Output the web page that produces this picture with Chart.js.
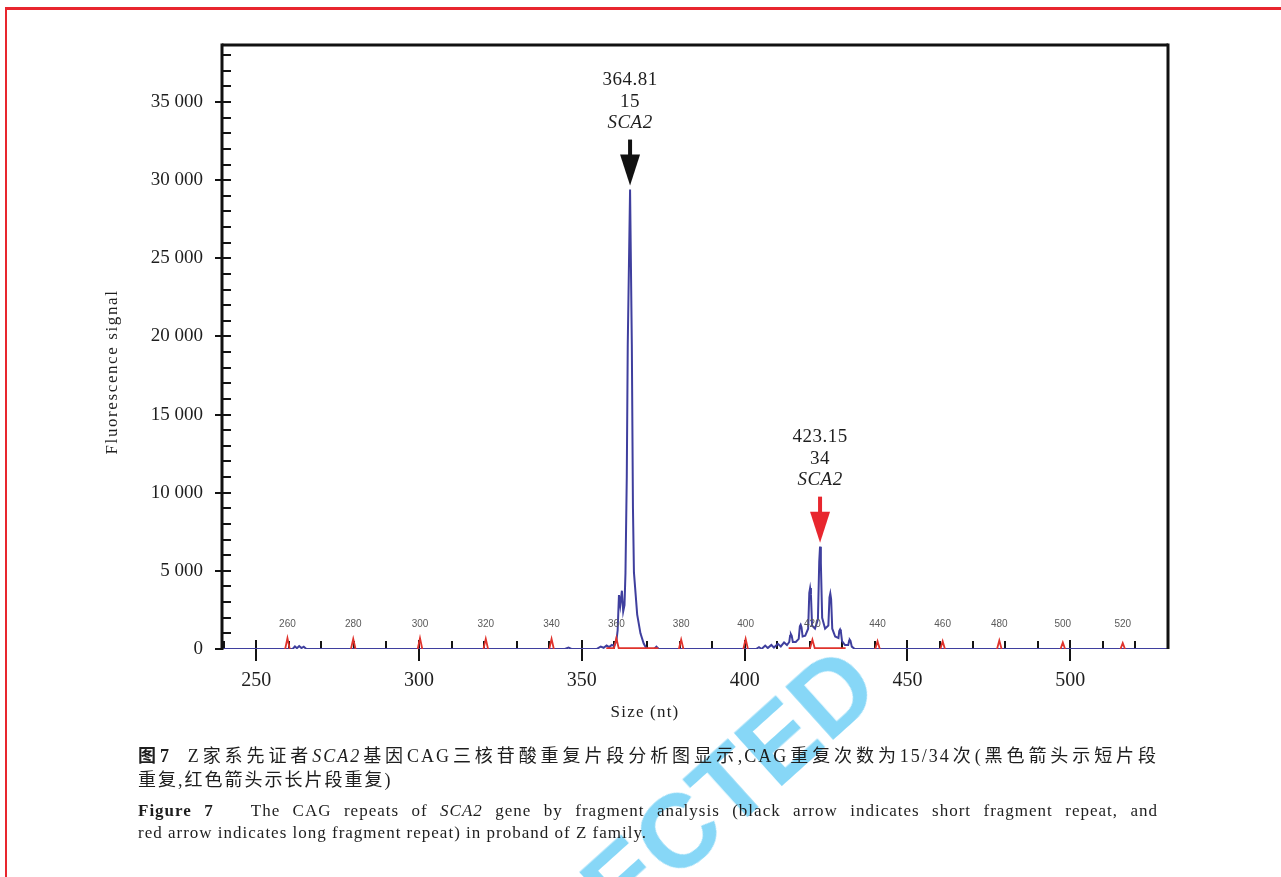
<!DOCTYPE html>
<html>
<head>
<meta charset="utf-8">
<script src="https://cdn.jsdelivr.net/npm/chart.js@4.4.1/dist/chart.umd.min.js"></script>
<style>
  html, body { margin: 0; padding: 0; background: #fff; width: 1281px; height: 877px; overflow: hidden; }
  body { position: relative; }
  #frame { position: absolute; left: 5px; top: 7px; width: 1300px; height: 900px;
           border-left: 2.5px solid #e8262e; border-top: 3px solid #e8262e; }
  #chart { position: absolute; left: 0; top: 0; }
  .wm { position: absolute; left: 622px; top: 842px; font: bold 104px 'Liberation Sans', Arial, sans-serif;
        line-height: 104px; color: #87d7f7; transform-origin: 0 88px; transform: rotate(-42deg); white-space: nowrap; }
  .cap { position: absolute; left: 138px; width: 1020px; color: #1e1e1e; }
  .zh { font-family: 'Liberation Serif', 'Noto Sans CJK SC', serif; font-size: 18px; line-height: 24px; letter-spacing: 2px; }
  .en { font-family: 'Liberation Serif', serif; font-size: 17px; line-height: 22px; letter-spacing: 1px; }
  .just { text-align: justify; text-align-last: justify; }
</style>
</head>
<body>
<div id="frame"></div>
<canvas id="chart" width="1281" height="740"></canvas>
<div class="wm">ECTED</div>
<div class="cap zh just" style="top:744px"><b>图7</b>&nbsp;&nbsp;Z家系先证者<i>SCA2</i>基因CAG三核苷酸重复片段分析图显示,CAG重复次数为15/34次(黑色箭头示短片段</div>
<div class="cap zh" style="top:768px">重复,红色箭头示长片段重复)</div>
<div class="cap en just" style="top:800px"><b>Figure 7</b>&nbsp;&nbsp; The CAG repeats of <i>SCA2</i> gene by fragment analysis (black arrow indicates short fragment repeat, and</div>
<div class="cap en" style="top:822px">red arrow indicates long fragment repeat) in proband of Z family.</div>

<script>
// ---- Fragment analysis trace (sample channel, blue) ----
const blueSize = [
  239.5, 261.2, 261.9, 262.5, 263.2, 263.9, 264.6, 265.4,
  344.8, 345.9, 346.8,
  354.5, 355.8, 356.7, 357.6, 358.4, 359.2, 359.9, 360.6, 361.0, 361.4, 361.8, 362.3, 362.7, 363.1,
  363.4, 363.8, 364.1, 364.81, 365.35, 365.7, 366.0, 367.0, 368.0, 369.0, 369.8, 370.5,
  372.2, 372.9, 373.6,
  403.5, 404.4, 405.2, 406.3, 407.1, 408.2, 409.0, 410.2, 411.1, 412.1, 413.0,
  413.7, 413.95, 414.2, 414.45, 414.8,
  415.7, 416.6, 416.95, 417.2, 417.45, 417.8,
  418.6, 419.5, 419.85, 420.1, 420.35, 420.7,
  421.6, 422.5, 422.9, 423.15, 423.4, 423.8,
  424.7, 425.7, 426.05, 426.3, 426.55, 426.9,
  427.8, 428.8, 429.05, 429.3, 429.55, 429.9,
  430.8, 431.8, 432.1, 432.3, 432.5, 432.9, 433.8,
  530
];
const blueSignal = [
  0, 0, 170, 50, 190, 60, 150, 0,
  0, 90, 0,
  0, 150, 80, 220, 120, 260, 200, 500, 1200, 3450, 2800, 3730, 2400, 2800,
  4860, 11000, 19500, 29400, 19500, 9000, 4900, 2200, 1000, 350, 50, 0,
  0, 150, 0,
  0, 120, 0, 220, 60, 260, 90, 330, 160, 420, 250,
  450, 850, 950, 850, 450,
  450, 650, 1450, 1550, 1400, 800,
  850, 1300, 3600, 3900, 3500, 1500,
  1300, 1900, 5600, 6550, 5500, 2000,
  1300, 1500, 3300, 3550, 3200, 1300,
  800, 700, 1150, 1250, 1100, 500,
  250, 250, 550, 580, 520, 150, 0,
  0
];

// ---- Size standard trace (red); null breaks the line between peaks ----
const redSize = [
  258.9, 259.6, 260.3, 260.4,
  279.1, 279.8, 280.5, 280.6,
  299.6, 300.3, 301.0, 301.1,
  319.8, 320.5, 321.2, 321.3,
  340.0, 340.7, 341.4, 341.5,
  357.5, 359.9, 360.6, 361.3, 373.5, 373.6,
  379.8, 380.5, 381.2, 381.3,
  399.6, 400.3, 401.0, 401.1,
  413.5, 420.1, 420.8, 421.5, 431.0, 431.1,
  440.1, 440.8, 441.5, 441.6,
  460.1, 460.8, 461.5, 461.6,
  477.5, 478.2, 478.9, 479.0,
  497.0, 497.7, 498.4, 498.5,
  515.4, 516.1, 516.8
];
const redSignal = [
  0, 700, 0, null,
  0, 650, 0, null,
  0, 700, 0, null,
  0, 650, 0, null,
  0, 650, 0, null,
  60, 60, 700, 60, 60, null,
  0, 600, 0, null,
  0, 650, 0, null,
  60, 60, 600, 60, 60, null,
  0, 500, 0, null,
  0, 500, 0, null,
  0, 550, 0, null,
  0, 420, 0, null,
  0, 380, 0
];

// size standard fragment labels
const standardSizes  = [259.6, 279.8, 300.3, 320.5, 340.7, 360.6, 380.5, 400.3, 420.8, 440.8, 460.8, 478.2, 497.7, 516.1];
const standardLabels = ['260', '280', '300', '320', '340', '360', '380', '400', '420', '440', '460', '480', '500', '520'];

// called alleles
const peakSizes    = [364.81, 423.15];
const peakSignals  = [29400, 6550];
const peakRepeats  = ['15', '34'];
const peakGene     = ['SCA2', 'SCA2'];
const arrowColors  = ['#111111', '#e8262e'];

// axis ticks
const xTickValues = [250, 300, 350, 400, 450, 500];
const yTickValues = [0, 5000, 10000, 15000, 20000, 25000, 30000, 35000];
const X_MIN = 239.5, X_MAX = 530, Y_MIN = 0, Y_MAX = 38650;

const toPoints = (xs, ys) => xs.map((v, i) => ({ x: v, y: ys[i] }));
const fmtThousands = v => String(v).replace(/\B(?=(\d{3})+(?!\d))/g, ' ');

const SERIF = "'Liberation Serif', 'Times New Roman', serif";

const decor = {
  id: 'decor',
  beforeDatasetsDraw(chart) {
    const { ctx, chartArea: a, scales: { x, y } } = chart;
    const seg = (x1, y1, x2, y2) => { ctx.beginPath(); ctx.moveTo(x1, y1); ctx.lineTo(x2, y2); ctx.stroke(); };
    ctx.save();
    ctx.strokeStyle = '#141414';
    ctx.lineWidth = 2;
    // y ticks: minor every 1000 inside, major every 5000 across the axis
    for (let v = 1000; v <= Y_MAX; v += 1000) {
      const py = Math.round(y.getPixelForValue(v));
      if (v % 5000 === 0) seg(a.left - 7, py, a.left + 9, py);
      else seg(a.left, py, a.left + 9, py);
    }
    const p0 = Math.round(y.getPixelForValue(0));
    seg(a.left - 7, p0, a.left, p0);
    // x ticks: minor every 10 inside, major every 50 across the baseline
    for (let v = 240; v <= X_MAX; v += 10) {
      const px = Math.round(x.getPixelForValue(v));
      if (v % 50 === 0) seg(px, a.bottom - 9, px, a.bottom + 12);
      else seg(px, a.bottom - 8, px, a.bottom);
    }
    ctx.restore();
  },
  afterDatasetsDraw(chart) {
    const { ctx, chartArea: a, scales: { x, y } } = chart;
    const seg = (x1, y1, x2, y2) => { ctx.beginPath(); ctx.moveTo(x1, y1); ctx.lineTo(x2, y2); ctx.stroke(); };
    ctx.save();
    // plot frame
    ctx.strokeStyle = '#111';
    ctx.lineWidth = 3;
    seg(a.left, a.top, a.right, a.top);
    seg(a.right, a.top - 1.5, a.right, a.bottom);
    seg(a.left, a.top - 1.5, a.left, a.bottom + 1);

    // size standard labels
    ctx.font = "10px 'Liberation Sans', Arial, sans-serif";
    ctx.fillStyle = '#5a5a5a';
    ctx.textAlign = 'center';
    ctx.textBaseline = 'middle';
    const ly = y.getPixelForValue(1600);
    standardSizes.forEach((s, i) => ctx.fillText(standardLabels[i], x.getPixelForValue(s), ly));

    // allele calls with arrows
    peakSizes.forEach((s, i) => {
      const px = x.getPixelForValue(s);
      const tip = y.getPixelForValue(peakSignals[i]) - 4;
      ctx.fillStyle = '#1e1e1e';
      ctx.letterSpacing = '0.5px';
      ctx.font = '19px ' + SERIF;
      ctx.fillText(s.toFixed(2), px, tip - 106);
      ctx.fillText(peakRepeats[i], px, tip - 84);
      ctx.font = 'italic 19px ' + SERIF;
      ctx.fillText(peakGene[i], px, tip - 62.5);
      ctx.letterSpacing = '0px';
      ctx.strokeStyle = arrowColors[i];
      ctx.fillStyle = arrowColors[i];
      ctx.lineWidth = 4;
      seg(px, tip - 46, px, tip - 28);
      ctx.beginPath();
      ctx.moveTo(px - 10, tip - 31);
      ctx.lineTo(px + 10, tip - 31);
      ctx.lineTo(px, tip);
      ctx.closePath();
      ctx.fill();
    });

    // axis titles
    ctx.fillStyle = '#1e1e1e';
    ctx.font = '17px ' + SERIF;
    ctx.letterSpacing = '1.2px';
    ctx.fillText('Size (nt)', 645, 713);
    ctx.translate(113, 372);
    ctx.rotate(-Math.PI / 2);
    ctx.letterSpacing = '1.6px';
    ctx.fillText('Fluorescence signal', 0, 0);
    ctx.restore();
  }
};

new Chart(document.getElementById('chart'), {
  type: 'line',
  data: {
    datasets: [
      { data: toPoints(blueSize, blueSignal), borderColor: '#3f3f9e', borderWidth: 2, order: 2 },
      { data: toPoints(redSize, redSignal), borderColor: '#e0332c', borderWidth: 1.8, order: 1, spanGaps: false }
    ]
  },
  options: {
    responsive: false,
    animation: false,
    events: [],
    layout: { padding: { left: 0, top: 45, right: 113, bottom: 51 } },
    elements: { point: { radius: 0 }, line: { tension: 0 } },
    plugins: { legend: { display: false }, tooltip: { enabled: false } },
    scales: {
      x: {
        type: 'linear', min: X_MIN, max: X_MAX,
        grid: { display: false, drawTicks: false },
        border: { display: false },
        afterBuildTicks: s => { s.ticks = xTickValues.map(v => ({ value: v })); },
        afterFit: s => { s.height = 40; },
        ticks: { padding: 20, color: '#1e1e1e', font: { family: SERIF, size: 20 }, maxRotation: 0, autoSkip: false }
      },
      y: {
        type: 'linear', min: Y_MIN, max: Y_MAX,
        grid: { display: false, drawTicks: false },
        border: { display: false },
        afterBuildTicks: s => { s.ticks = yTickValues.map(v => ({ value: v })); },
        afterFit: s => { s.width = 222; },
        ticks: { padding: 19, color: '#1e1e1e', font: { family: SERIF, size: 19 }, autoSkip: false,
                 callback: v => fmtThousands(v) }
      }
    }
  },
  plugins: [decor]
});
</script>
</body>
</html>
